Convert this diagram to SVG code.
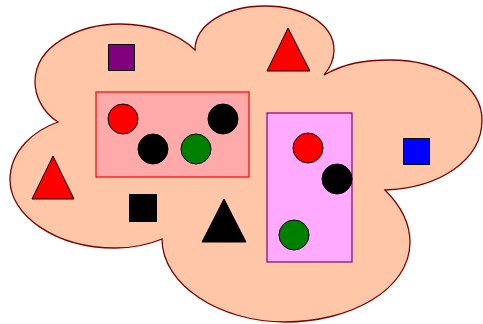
<svg xmlns="http://www.w3.org/2000/svg" width="483" height="324" viewBox="0 0 483 324">
<style>
.s{stroke:#000;stroke-width:1}
</style>
<rect width="483" height="324" fill="#fff"/>
<g id="cloud">
<path d="M58,122 C42,112 35,95 35,82 C35,45 80,24 120,24 C150,24 178,33 195,50 C195,25 225,6 265,6 C305,6 334,25 334,50 C334,60 330,68 324,75 C345,63 365,60 390,60 C440,60 482,85 482,120 C482,160 440,188 385,190 C400,205 410,222 410,242 C410,290 350,322 285,322 C220,322 162,285 162,239 C148,245 132,248 115,248 C55,248 10,215 10,180 C10,150 35,130 58,122 Z" fill="#ffc6a8" stroke="#800000" stroke-width="1.3"/>
</g>
<g id="box1"><rect x="96" y="92" width="153" height="85" fill="#ffaaaa" stroke="#ff0000" stroke-width="1.2"/></g>
<g id="box2"><rect x="267" y="113" width="85" height="149" fill="#ffaaff" stroke="#800080" stroke-width="1.2"/></g>
<g id="c1"><circle class="s" cx="123" cy="119" r="15" fill="#ff0000"/></g>
<g id="c2"><circle class="s" cx="223" cy="119" r="15" fill="#000"/></g>
<g id="c3"><circle class="s" cx="153" cy="149" r="15" fill="#000"/></g>
<g id="c4"><circle class="s" cx="196" cy="149" r="15" fill="#008000"/></g>
<g id="c5"><circle class="s" cx="308" cy="148" r="15" fill="#ff0000"/></g>
<g id="c6"><circle class="s" cx="337" cy="179" r="15" fill="#000"/></g>
<g id="c7"><circle class="s" cx="294" cy="235" r="15" fill="#008000"/></g>
<g id="sq1"><rect class="s" x="108.5" y="44.5" width="26" height="26" fill="#800080"/></g>
<g id="sq2"><rect class="s" x="403.5" y="138.5" width="26" height="26" fill="#0000ff"/></g>
<g id="sq3"><rect class="s" x="129.5" y="194.5" width="27" height="27" fill="#000"/></g>
<g id="t1"><polygon class="s" points="288,28 267,71 310,71" fill="#ff0000"/></g>
<g id="t2"><polygon class="s" points="53,156 32,199 74,199" fill="#ff0000"/></g>
<g id="t3"><polygon class="s" points="224,199 202,242 246,242" fill="#000"/></g>
<g id="connectors"></g>
</svg>
